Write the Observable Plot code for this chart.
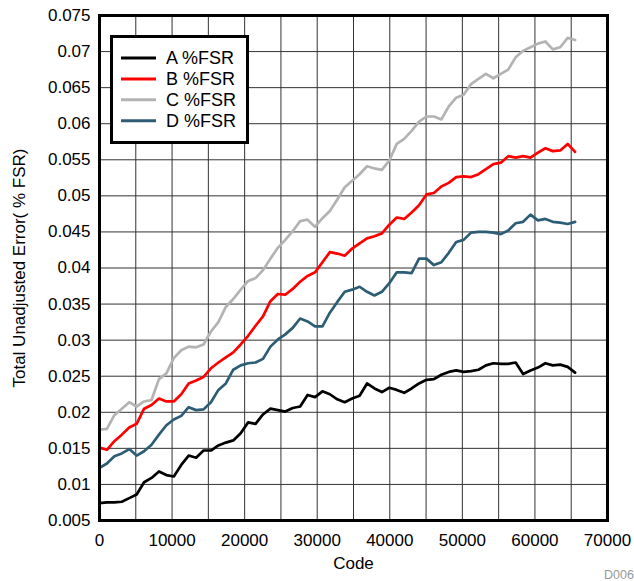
<!DOCTYPE html>
<html><head><meta charset="utf-8">
<script src="https://cdn.jsdelivr.net/npm/d3@7"></script>
<script src="https://cdn.jsdelivr.net/npm/@observablehq/plot@0.6"></script>
<style>
body{margin:0;background:#fff;font-family:"Liberation Sans",Arial,sans-serif;}
#wrap{position:relative;width:634px;height:581px;overflow:hidden;background:#fff;}
#wrap svg{display:block;}
#legend{position:absolute;left:110px;top:35px;}
</style></head><body><div id="wrap"></div><script>
const codes = [0,1024,2048,3072,4096,5120,6144,7168,8192,9216,10240,11264,12288,13312,14336,15360,16384,17408,18432,19456,20480,21504,22528,23552,24576,25600,26624,27648,28672,29696,30720,31744,32768,33792,34816,35840,36864,37888,38912,39936,40960,41984,43008,44032,45056,46080,47104,48128,49152,50176,51200,52224,53248,54272,55296,56320,57344,58368,59392,60416,61440,62464,63488,64512,65535];
const seriesA = [0.0074,0.0075,0.0075,0.0076,0.0081,0.0086,0.0103,0.0109,0.0118,0.0113,0.0111,0.0127,0.0140,0.0137,0.0147,0.0147,0.0154,0.0158,0.0161,0.0171,0.0186,0.0184,0.0197,0.0205,0.0203,0.0201,0.0206,0.0208,0.0224,0.0221,0.0229,0.0225,0.0218,0.0214,0.0219,0.0223,0.0240,0.0233,0.0228,0.0234,0.0231,0.0227,0.0233,0.0240,0.0245,0.0246,0.0252,0.0256,0.0258,0.0256,0.0257,0.0259,0.0265,0.0268,0.0267,0.0267,0.0269,0.0253,0.0258,0.0262,0.0268,0.0265,0.0266,0.0263,0.0255];
const seriesB = [0.0151,0.0148,0.0160,0.0169,0.0179,0.0184,0.0205,0.0210,0.0219,0.0215,0.0215,0.0225,0.0240,0.0244,0.0249,0.0261,0.0269,0.0276,0.0283,0.0294,0.0306,0.0320,0.0333,0.0354,0.0364,0.0363,0.0371,0.0381,0.0389,0.0394,0.0408,0.0422,0.0420,0.0417,0.0427,0.0434,0.0441,0.0444,0.0448,0.0460,0.0470,0.0468,0.0477,0.0487,0.0502,0.0504,0.0513,0.0518,0.0526,0.0527,0.0526,0.0530,0.0537,0.0544,0.0546,0.0555,0.0553,0.0555,0.0553,0.0560,0.0566,0.0562,0.0563,0.0572,0.0561];
const seriesC = [0.0176,0.0177,0.0196,0.0205,0.0214,0.0208,0.0215,0.0217,0.0246,0.0254,0.0275,0.0286,0.0291,0.0290,0.0294,0.0312,0.0325,0.0346,0.0357,0.0370,0.0382,0.0386,0.0397,0.0413,0.0428,0.0439,0.0451,0.0465,0.0467,0.0457,0.0469,0.0479,0.0495,0.0512,0.0521,0.0530,0.0541,0.0538,0.0536,0.0549,0.0572,0.0579,0.0590,0.0603,0.0610,0.0610,0.0606,0.0624,0.0636,0.0640,0.0655,0.0662,0.0669,0.0663,0.0669,0.0675,0.0692,0.0701,0.0706,0.0711,0.0714,0.0703,0.0706,0.0719,0.0716];
const seriesD = [0.0123,0.0129,0.0139,0.0143,0.0149,0.0140,0.0146,0.0155,0.0169,0.0182,0.0190,0.0195,0.0207,0.0203,0.0204,0.0214,0.0231,0.0240,0.0259,0.0265,0.0268,0.0269,0.0274,0.0291,0.0301,0.0308,0.0317,0.0330,0.0326,0.0319,0.0319,0.0338,0.0353,0.0367,0.0370,0.0374,0.0367,0.0362,0.0367,0.0379,0.0394,0.0394,0.0393,0.0413,0.0413,0.0404,0.0408,0.0421,0.0436,0.0439,0.0449,0.0450,0.0450,0.0449,0.0447,0.0452,0.0462,0.0464,0.0474,0.0466,0.0468,0.0464,0.0463,0.0461,0.0464];
const seriesNames = ["A %FSR","B %FSR","C %FSR","D %FSR"];
const seriesColors = ["#000000","#ff0000","#b3b3b3","#2c5d75"];
const xTicks = [0,10000,20000,30000,40000,50000,60000,70000];
const xGrid = [5000,10000,15000,20000,25000,30000,35000,40000,45000,50000,55000,60000,65000];
const yTicks = [0.005,0.01,0.015,0.02,0.025,0.03,0.035,0.04,0.045,0.05,0.055,0.06,0.065,0.07,0.075];
const yGrid = [0.01,0.015,0.02,0.025,0.03,0.035,0.04,0.045,0.05,0.055,0.06,0.065,0.07];
const xLabel = "Code";
const yLabel = "Total Unadjusted Error( % FSR)";
const footnote = "D006";

const allSeries = [seriesA, seriesB, seriesC, seriesD];
const rows = [];
allSeries.forEach((vals, s) => vals.forEach((v, i) => rows.push({code: codes[i], value: v, series: seriesNames[s]})));

const FONT = "'Liberation Sans', Arial, sans-serif";
const chart = Plot.plot({
  width: 634, height: 581,
  marginLeft: 99, marginRight: 27, marginTop: 15, marginBottom: 61,
  style: {fontFamily: FONT, fontSize: "17px", color: "#000", background: "#fff", overflow: "visible"},
  x: {domain: [0, 70000]},
  y: {domain: [0.005, 0.075]},
  color: {domain: seriesNames, range: seriesColors},
  marks: [
    Plot.ruleX(xGrid, {stroke: "#333", strokeWidth: 1}),
    Plot.ruleY(yGrid, {stroke: "#333", strokeWidth: 1}),
    Plot.line(rows, {x: "code", y: "value", z: "series", stroke: "series", strokeWidth: 2.7, strokeLinejoin: "round"}),
    Plot.frame({stroke: "#000", strokeWidth: 3}),
    Plot.axisX({ticks: xTicks, tickSize: 0, tickPadding: 13, tickFormat: d => String(d), label: xLabel, labelAnchor: "center", labelOffset: 48, labelArrow: "none", fontSize: 17}),
    Plot.axisY({ticks: yTicks, tickSize: 0, tickPadding: 9, tickFormat: d => String(d), label: yLabel, labelAnchor: "center", labelOffset: 87, labelArrow: "none", fontSize: 17})
  ]
});
const wrap = document.getElementById("wrap");
wrap.appendChild(chart);

d3.select(chart).append("text")
  .attr("x", 604).attr("y", 579).attr("text-anchor", "start")
  .attr("fill", "#999").attr("font-size", 12.5).attr("font-family", FONT)
  .text(footnote);

const leg = d3.select(wrap).append("svg").attr("id", "legend").attr("width", 140).attr("height", 110);
leg.append("rect").attr("x", 1.5).attr("y", 1.5).attr("width", 136).attr("height", 106)
  .attr("fill", "#fff").attr("stroke", "#000").attr("stroke-width", 3);
seriesNames.forEach((name, i) => {
  const y = 23 + i * 20.9;
  leg.append("line").attr("x1", 11).attr("x2", 46).attr("y1", y).attr("y2", y)
    .attr("stroke", seriesColors[i]).attr("stroke-width", 3);
  leg.append("text").attr("x", 56).attr("y", y).attr("dy", "0.35em")
    .attr("font-size", 18).attr("font-family", FONT).attr("fill", "#000").text(name);
});
</script></body></html>
